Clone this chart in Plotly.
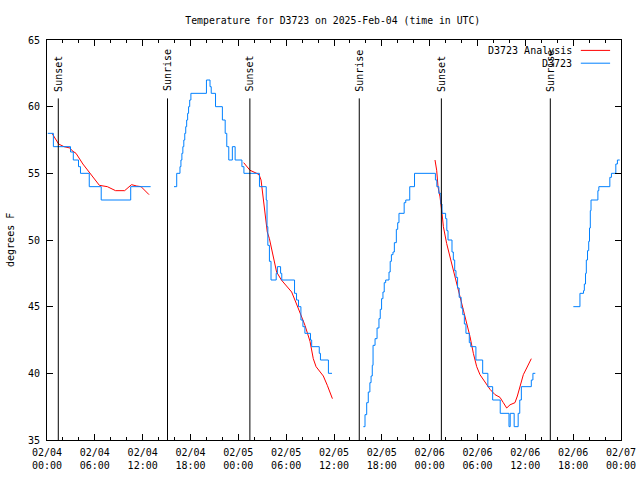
import pandas as pd
import plotly.graph_objects as go

BASE = pd.Timestamp("2025-02-04 00:00")

# Observed temperatures (D3723): hours since 2025-02-04 00:00 UTC -> degrees F, one list pair per run of data
obs1_hours = [0.1, 0.8, 2.95, 3.3, 3.95, 4.2, 5.3, 6.8, 10.5, 13.0]
obs1_temp = [58, 57, 56.6, 56, 55.5, 55, 54, 53, 54, 54]

obs2_hours = [15.93, 16.27, 16.68, 16.8, 16.92, 17.04, 17.16, 17.28, 17.4, 17.52, 17.64, 17.76, 17.9, 18.05,
              20.0, 20.2, 20.45, 20.6, 21.14, 22.0, 22.35, 22.55, 22.8, 23.25, 23.6, 24.45, 24.7,
              26.65, 27.5, 27.6, 27.7, 27.9, 28.1, 28.75, 28.9, 29.3, 29.45,
              31.05, 31.3, 31.55, 31.85, 32.1, 32.35, 33.05, 33.2, 34.15, 34.3, 35.3, 35.75]
obs2_temp = [54, 55, 55.5, 56, 56.5, 57, 57.5, 58, 58.5, 59, 59.5, 60, 60.5, 61,
             62, 62, 61.5, 61, 60, 59, 58, 57, 56, 57, 56, 55.5, 55,
             54, 53, 51, 49.6, 48.4, 47, 47.5, 48, 47.5, 47,
             46, 45.5, 45, 44, 43.5, 43, 42.5, 42, 41.5, 41, 40, 40]

obs3_hours = [39.68, 39.89, 40.1, 40.3, 40.5, 40.65, 40.8, 40.9, 41.15, 41.4, 41.64, 41.8, 41.97,
              42.14, 42.3, 42.48, 42.9, 43.05, 43.2, 43.4, 43.57, 43.82, 43.99, 44.15, 44.8, 45.0,
              45.5, 46.1, 48.72, 48.9, 49.15, 49.4, 49.55, 50.0, 50.15, 50.3, 50.8,
              50.97, 51.14, 51.3, 51.5, 51.7, 51.95, 52.15, 52.35, 52.55, 52.97, 53.15, 53.8, 54.65,
              55.3, 55.9, 56.85, 57.95, 58.1, 58.6, 59.1, 59.3, 59.5, 60.75, 60.95, 61.25]
obs3_temp = [36, 36.9, 37.8, 38.6, 39.3, 39.8, 40.6, 42.1, 42.6, 43.4, 44.1, 44.8, 45.6,
             46.1, 46.8, 47, 47.6, 48.4, 48.9, 49.1, 49.8, 50.8, 51.3, 52, 52.8, 53,
             54, 55, 54.5, 54, 53.5, 52.7, 52, 51.6, 50.7, 50, 49.1,
             48.5, 47.7, 47.2, 46.4, 45.7, 44.9, 44.4, 43.7, 43, 42.3, 42, 41, 40,
             39, 38, 37, 36, 37, 36, 37, 38, 39, 39.5, 40, 40]

obs4_hours = [66.02, 66.85, 67.3, 67.4, 67.55, 67.65, 67.8, 67.95, 68.05, 68.15, 68.24, 69.1, 69.22,
              70.6, 70.8, 71.35, 71.55, 71.84]
obs4_temp = [45, 46, 46.2, 46.7, 47.5, 48.5, 49.2, 49.9, 50.9, 52.2, 53, 53.7, 54,
             54.7, 55, 55.7, 56, 56]

# Analysis temperatures (D3723 Analysis)
ana1_hours = [0.63, 1.0, 1.46, 2.13, 2.89, 3.14, 3.64, 4.5, 5.5, 6.57, 7.57, 8.6, 9.74, 10.6, 11.25, 11.8, 12.8]
ana1_temp = [58.0, 57.6, 57.2, 57.0, 56.9, 56.7, 56.5, 55.7, 54.9, 54.1, 54.0, 53.7, 53.7, 54.15, 54.05, 54.0, 53.4]

ana2_hours = [24.67, 25.46, 26.3, 26.6, 26.85, 27.05, 27.35, 27.63, 27.9, 28.39, 28.8, 29.4, 30.27, 30.69,
              31.5, 32.36, 32.99, 33.4, 33.75, 34.66, 35.16, 35.8]
ana2_temp = [55.8, 55.23, 55.0, 54.9, 54.5, 53.4, 51.9, 50.6, 50.1, 48.6, 47.6, 47.0, 46.4, 46.1,
             44.9, 43.6, 42.4, 41.1, 40.5, 39.8, 39.1, 38.1]

ana3_hours = [48.67, 48.88, 49.05, 49.3, 49.55, 49.72, 50.13, 50.55, 50.97, 51.39, 51.8, 52.22, 52.64,
              53.06, 53.48, 53.9, 54.31, 54.94, 55.57, 56.2, 56.82, 57.24, 57.66, 58.08, 58.7, 59.0,
              59.33, 59.75, 60.17, 60.75]
ana3_temp = [56.0, 55.23, 53.98, 53.23, 52.0, 51.0, 49.74, 48.74, 47.75, 46.75, 45.75, 44.75, 43.76,
             42.76, 41.5, 40.5, 39.9, 39.3, 38.8, 38.4, 38.2, 37.8, 37.4, 37.64, 37.8, 38.3,
             39.0, 39.9, 40.4, 41.1]

sun_labels = ["Sunset", "Sunrise", "Sunset", "Sunrise", "Sunset", "Sunrise"]
sun_times = ["2025-02-04 01:25", "2025-02-04 15:07", "2025-02-05 01:27",
             "2025-02-05 15:10", "2025-02-06 01:28", "2025-02-06 15:08"]

legend_names = ["D3723 Analysis", "D3723"]
legend_colors = ["#ff0000", "#0080ff"]

title_text = "Temperature for D3723 on 2025-Feb-04 (time in UTC)"
y_title = "degrees F"


def join(segments):
    xs, ys = [], []
    for hrs, vals in segments:
        assert len(hrs) == len(vals)
        if xs:
            xs.append(None)
            ys.append(None)
        xs += [BASE + pd.Timedelta(hours=h) for h in hrs]
        ys += list(vals)
    return xs, ys


FONT = "DejaVu Sans Mono"

ax, ay = join([(ana1_hours, ana1_temp), (ana2_hours, ana2_temp), (ana3_hours, ana3_temp)])
ox, oy = join([(obs1_hours, obs1_temp), (obs2_hours, obs2_temp), (obs3_hours, obs3_temp),
               (obs4_hours, obs4_temp)])

fig = go.Figure()
fig.add_trace(go.Scatter(x=ax, y=ay, mode="lines",
                         line=dict(color=legend_colors[0], width=1),
                         connectgaps=False, name=legend_names[0], showlegend=False))
fig.add_trace(go.Scatter(x=ox, y=oy, mode="lines",
                         line=dict(color=legend_colors[1], width=1, shape="hv"),
                         connectgaps=False, name=legend_names[1], showlegend=False))

for lab, t in zip(sun_labels, sun_times):
    fig.add_shape(type="line", xref="x", yref="paper", x0=t, x1=t, y0=0, y1=0.854,
                  line=dict(color="black", width=1))
    fig.add_annotation(x=t, xref="x", yref="paper", y=0.866, text=lab, textangle=-90,
                       showarrow=False, xanchor="center", yanchor="bottom",
                       font=dict(family=FONT, size=10, color="black"))

# custom legend (text on the left, sample line on the right, as in gnuplot)
leg_y = [0.974, 0.942]
for name, col, yy in zip(legend_names, legend_colors, leg_y):
    fig.add_annotation(x=0.918, y=yy, xref="paper", yref="paper", text=name,
                       showarrow=False, xanchor="right", yanchor="middle",
                       font=dict(family=FONT, size=10, color="black"))
    fig.add_shape(type="line", xref="paper", yref="paper", x0=0.930, x1=0.981,
                  y0=yy, y1=yy, line=dict(color=col, width=1))

fig.add_annotation(x=-0.0645, y=0.5, xref="paper", yref="paper", text=y_title,
                   textangle=-90, showarrow=False, xanchor="center", yanchor="middle",
                   font=dict(family=FONT, size=10, color="black"))

fig.update_layout(
    width=640, height=480, autosize=False,
    margin=dict(l=47, r=19, t=40, b=40, autoexpand=False),
    paper_bgcolor="white", plot_bgcolor="white",
    font=dict(family=FONT, size=10, color="black"),
    title=dict(text=title_text, x=0.52, xanchor="center", y=0.958, yanchor="middle",
               xref="container", yref="container",
               font=dict(family=FONT, size=9.8, color="black")),
    showlegend=False,
)
fig.update_xaxes(
    type="date", range=["2025-02-04 00:00", "2025-02-07 00:00"],
    tick0="2025-02-04 00:00", dtick=6 * 3600 * 1000, tickformat="%m/%d<br>%H:%M",
    ticks="inside", ticklen=6, tickcolor="black", tickwidth=1,
    minor=dict(dtick=2 * 3600 * 1000, ticks="inside", ticklen=3, tickcolor="black", tickwidth=1),
    showline=True, linecolor="black", linewidth=1, mirror="ticks",
    showgrid=False, zeroline=False, automargin=False, ticklabelstandoff=3,
    tickfont=dict(family=FONT, size=10, color="black"),
)
fig.update_yaxes(
    range=[35, 65], tick0=35, dtick=5,
    ticks="inside", ticklen=6, tickcolor="black", tickwidth=1,
    showline=True, linecolor="black", linewidth=1, mirror="ticks",
    showgrid=False, zeroline=False, automargin=False, ticklabelstandoff=4,
    tickfont=dict(family=FONT, size=10, color="black"),
)

fig.write_html("out.html", config={"displayModeBar": False, "responsive": False},
               post_script="document.body.style.margin='0';")
